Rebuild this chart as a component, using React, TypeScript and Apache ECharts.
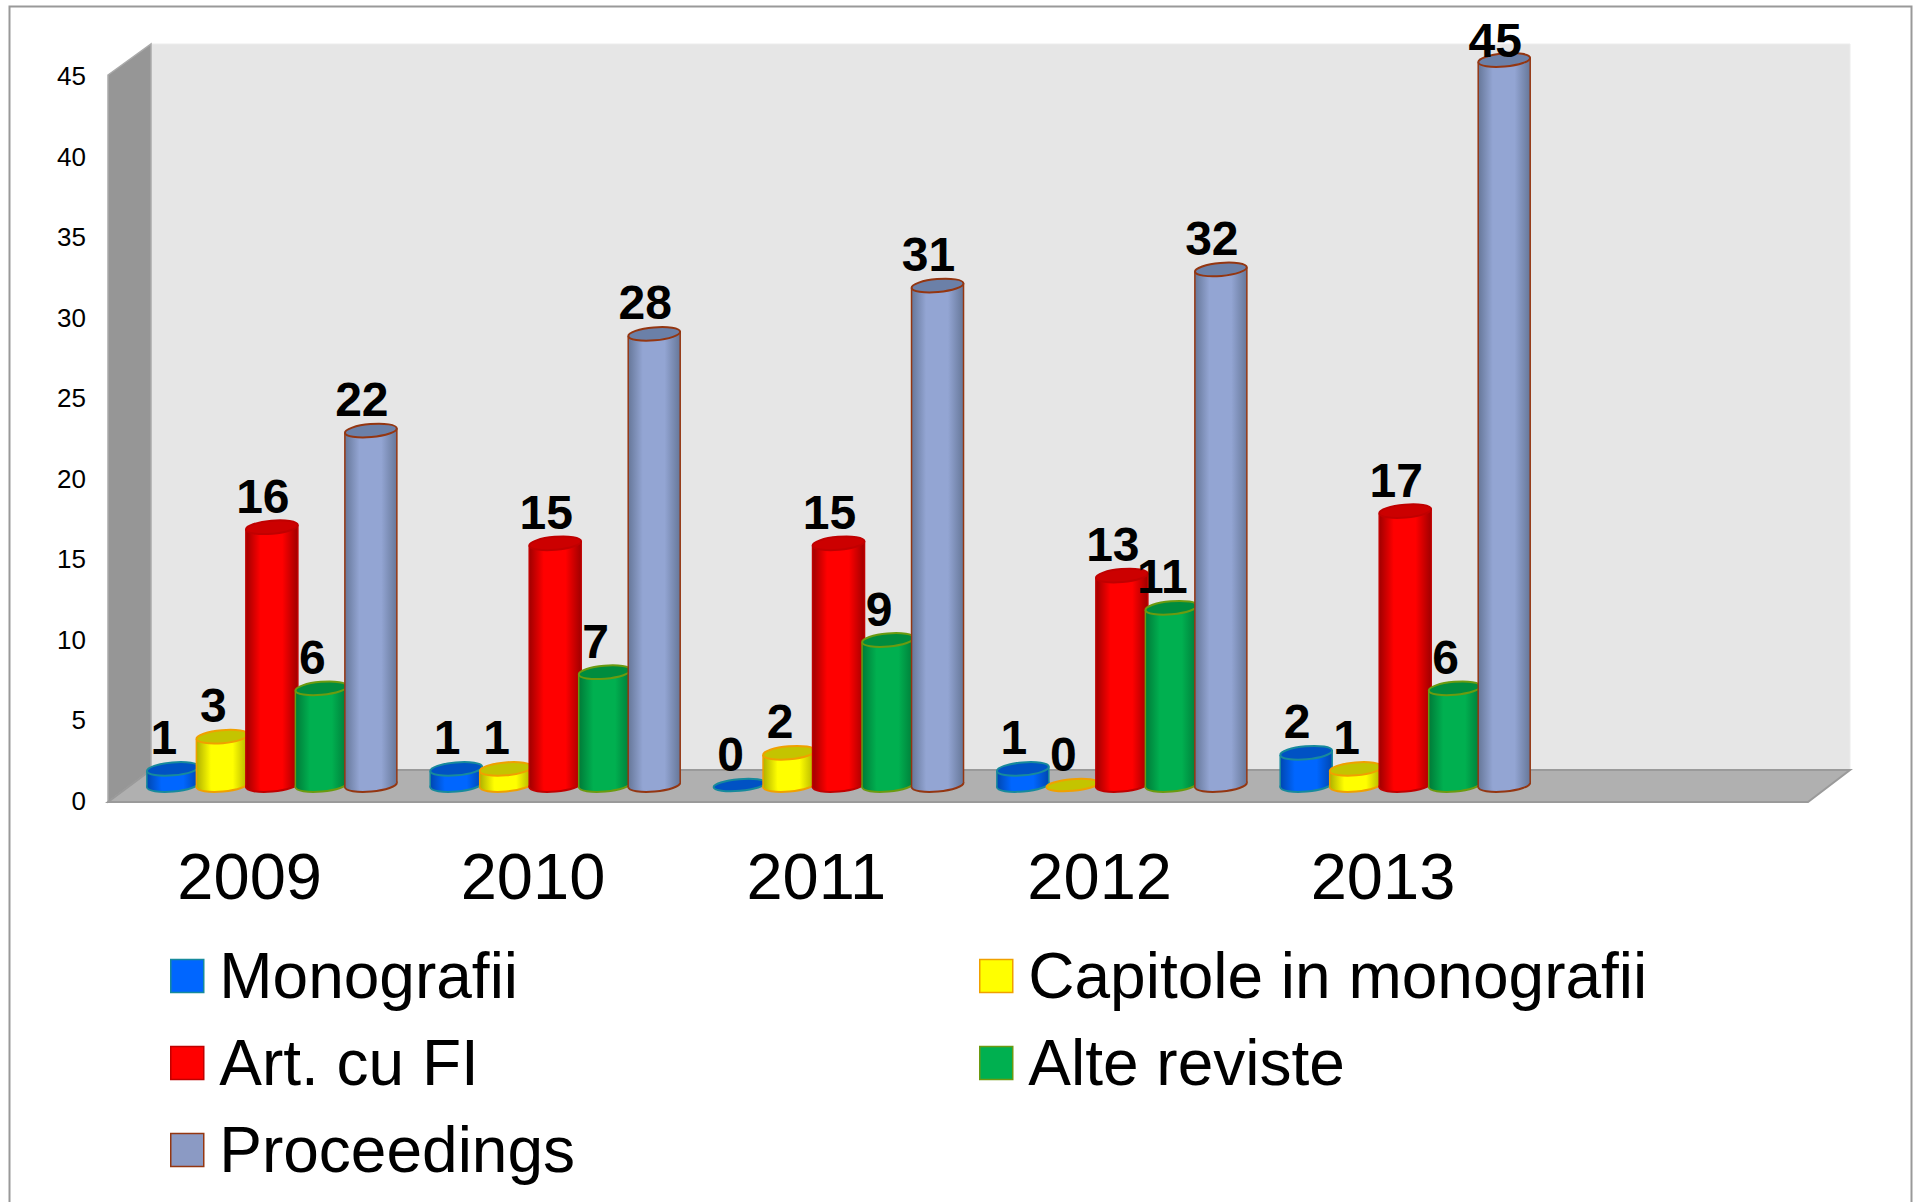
import React, { useEffect, useRef } from "react";
import * as echarts from "echarts";

const categories = ["2009", "2010", "2011", "2012", "2013", ""];
const seriesNames = ["Monografii", "Capitole in monografii", "Art. cu FI", "Alte reviste", "Proceedings"];
const monografii = [1, 1, 0, 1, 2];
const capitole = [3, 1, 2, 0, 1];
const artCuFi = [16, 15, 15, 13, 17];
const alteReviste = [6, 7, 9, 11, 6];
const proceedings = [22, 28, 31, 32, 45];
const allValues = [monografii, capitole, artCuFi, alteReviste, proceedings];

const palette = [
  { main: "#0066ff", edge: "#0047b0", top: "#0052c4", line: "#178a9c" },
  { main: "#ffff00", edge: "#b0b000", top: "#c4c400", line: "#f0a000" },
  { main: "#ff0000", edge: "#a00000", top: "#cc0000", line: "#c00000" },
  { main: "#00b050", edge: "#007a38", top: "#008c3e", line: "#6b9a10" },
  { main: "#93a5d3", edge: "#667799", top: "#6b80a8", line: "#943611" },
];

const DEPTH_X = 22.2;
const DEPTH_Y = -16;
const SPACING = 49.5;
const RX = 26;
const RY = 6.5;
const TILT = (5 * Math.PI) / 180;
const FONT = '"Liberation Sans", Arial, sans-serif';

function makeRenderItem(idx: number) {
  const c = palette[idx];
  return (_params: any, api: any) => {
    const cat = api.value(0);
    const val = api.value(1);
    const top = api.coord([cat, val]);
    const base = api.coord([cat, 0]);
    const cx = top[0] + DEPTH_X + (idx - 2) * SPACING;
    const topY = top[1] + DEPTH_Y;
    const baseY = base[1] + DEPTH_Y;
    const dy = RX * Math.sin(TILT);
    const fill = new echarts.graphic.LinearGradient(0, 0, 1, 0, [
      { offset: 0, color: c.edge },
      { offset: 0.28, color: c.main },
      { offset: 0.7, color: c.main },
      { offset: 1, color: c.edge },
    ]);
    const children: any[] = [];
    if (val > 0) {
      children.push({
        type: "ellipse",
        shape: { cx: 0, cy: 0, rx: RX, ry: RY },
        x: cx,
        y: baseY,
        rotation: TILT,
        style: { fill, stroke: c.line, lineWidth: 2 },
      });
      children.push({
        type: "polygon",
        shape: {
          points: [
            [cx - RX, topY + dy],
            [cx + RX, topY - dy],
            [cx + RX, baseY - dy],
            [cx - RX, baseY + dy],
          ],
        },
        style: { fill },
      });
      children.push({
        type: "line",
        shape: { x1: cx - RX, y1: topY + dy, x2: cx - RX, y2: baseY + dy },
        style: { stroke: c.line, lineWidth: 1.5 },
      });
      children.push({
        type: "line",
        shape: { x1: cx + RX, y1: topY - dy, x2: cx + RX, y2: baseY - dy },
        style: { stroke: c.line, lineWidth: 1.5 },
      });
    }
    children.push({
      type: "ellipse",
      shape: { cx: 0, cy: 0, rx: RX, ry: val > 0 ? RY : RY * 0.9 },
      x: cx,
      y: topY,
      rotation: TILT,
      style: { fill: c.top, stroke: c.line, lineWidth: 2 },
    });
    children.push({
      type: "text",
      z2: 100,
      style: {
        text: String(val),
        x: cx - 9,
        y: Math.max(topY - 31, 40),
        fill: "#000",
        fontSize: 48,
        fontWeight: "bold",
        fontFamily: FONT,
        textAlign: "center",
        textVerticalAlign: "middle",
        align: "center",
        verticalAlign: "middle",
      },
    });
    return { type: "group", children };
  };
}

const legendText = {
  fontSize: 64,
  fontFamily: FONT,
  color: "#000",
  lineHeight: 74,
  padding: [0, 0, 0, 10.5],
};

function legendItem(name: string) {
  const i = seriesNames.indexOf(name);
  return {
    name,
    icon: "rect",
    itemStyle: { color: i === 4 ? "#8b9ac4" : palette[i].main, borderColor: palette[i].line, borderWidth: 1.5 },
  };
}

export default function App() {
  const ref = useRef<HTMLDivElement>(null);
  useEffect(() => {
    const chart = echarts.init(ref.current!, undefined, { renderer: "svg" });
    chart.setOption({
      animation: false,
      backgroundColor: "#fff",
      grid: { left: 108, top: 76, width: 1700, height: 725 },
      xAxis: {
        type: "category",
        data: categories,
        axisLine: { show: false },
        axisTick: { show: false },
        splitLine: { show: false },
        axisLabel: { interval: 0, fontSize: 65, fontFamily: FONT, color: "#000", margin: 43 },
      },
      yAxis: {
        type: "value",
        min: 0,
        max: 45,
        interval: 5,
        axisLine: { show: false },
        axisTick: { show: false },
        splitLine: { show: false },
        axisLabel: { fontSize: 26, fontFamily: FONT, color: "#000", margin: 22 },
      },
      legend: [
        {
          orient: "vertical",
          left: 170,
          top: 939,
          padding: 0,
          itemWidth: 33,
          itemHeight: 33,
          itemGap: 13,
          textStyle: legendText,
          data: [seriesNames[0], seriesNames[2], seriesNames[4]].map(legendItem),
        },
        {
          orient: "vertical",
          left: 979,
          top: 939,
          padding: 0,
          itemWidth: 33,
          itemHeight: 33,
          itemGap: 13,
          textStyle: legendText,
          data: [seriesNames[1], seriesNames[3]].map(legendItem),
        },
      ],
      graphic: [
        {
          type: "rect",
          shape: { x: 9.5, y: 6.5, width: 1902, height: 1210 },
          style: { fill: "none", stroke: "#999", lineWidth: 2 },
        },
        {
          type: "rect",
          shape: { x: 151, y: 44, width: 1699, height: 726 },
          style: { fill: "#e6e6e6", stroke: "#ececec", lineWidth: 1 },
        },
        {
          type: "polygon",
          shape: { points: [[108, 75], [151, 44], [151, 770], [108, 802]] },
          style: { fill: "#969696", stroke: "#aaaaaa", lineWidth: 1.5 },
        },
        {
          type: "polygon",
          shape: { points: [[108, 802], [151, 770], [1850, 770], [1808, 802]] },
          style: { fill: "#b0b0b0", stroke: "#9a9a9a", lineWidth: 2 },
        },
      ],
      series: allValues.map((vals, idx) => ({
        type: "custom",
        name: seriesNames[idx],
        silent: true,
        clip: false,
        encode: { x: 0, y: 1 },
        itemStyle: { color: palette[idx].main },
        renderItem: makeRenderItem(idx),
        data: vals.map((v, i) => [i, v]),
      })),
    });
    return () => chart.dispose();
  }, []);
  return <div ref={ref} style={{ position: "absolute", left: 0, top: 0, width: 1919, height: 1202 }} />;
}
